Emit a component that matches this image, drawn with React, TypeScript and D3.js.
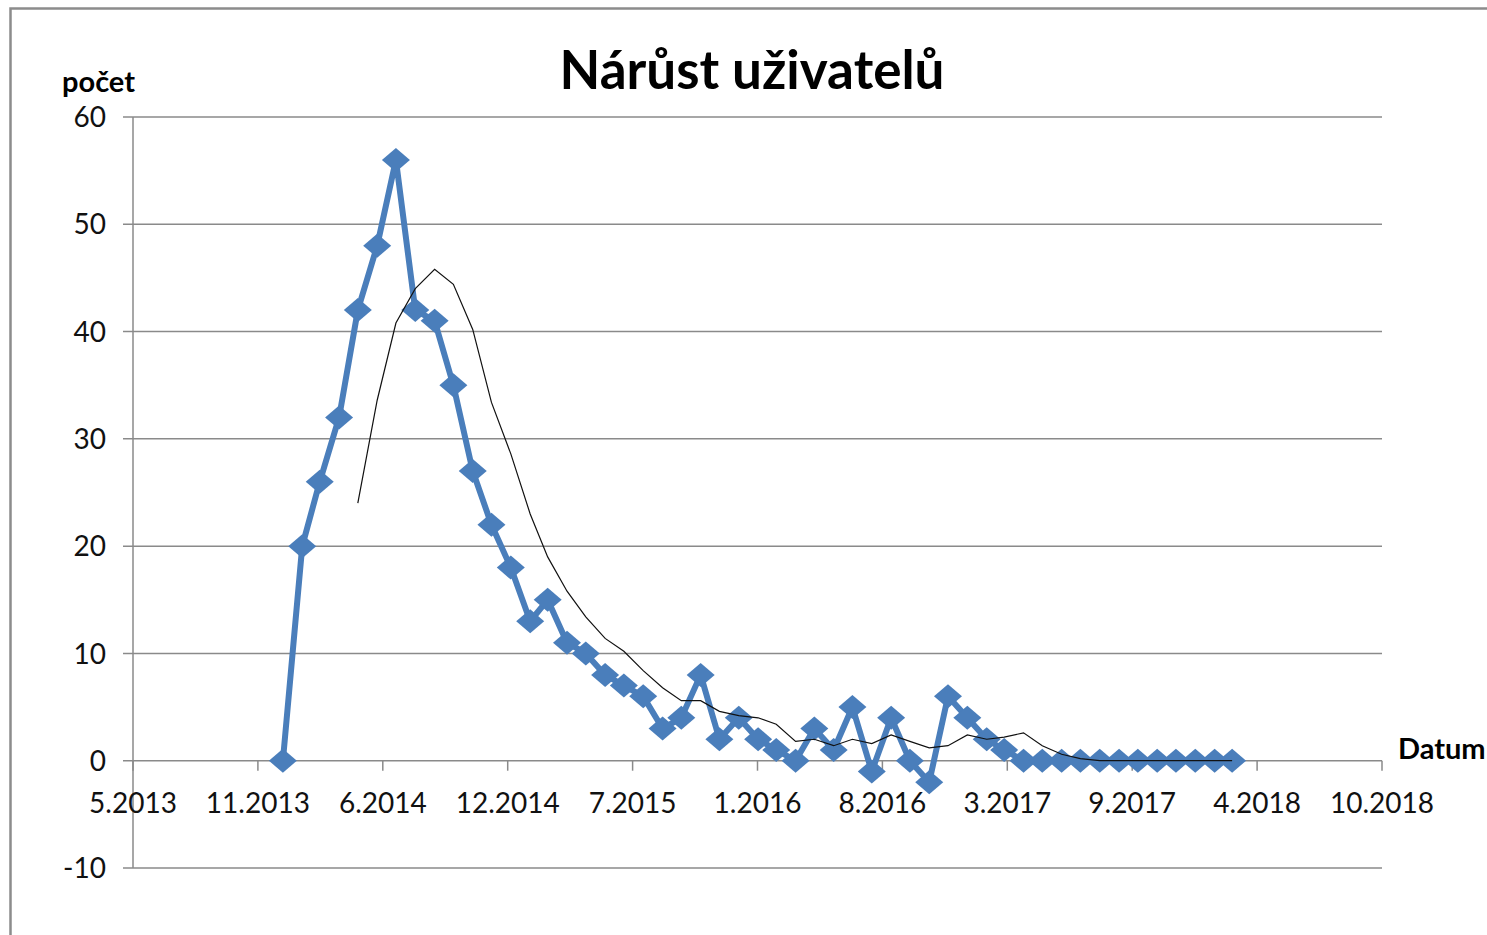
import React, { useEffect, useRef } from 'react'
import * as d3 from 'd3'

// monthly counts, 1.2014 .. 3.2018
const firstMonth = '2014-01-01'
const lastMonth = '2018-03-01'
const counts = [
  0, 20, 26, 32, 42, 48, 56, 42, 41, 35, 27, 22,
  18, 13, 15, 11, 10, 8, 7, 6, 3, 4, 8, 2,
  4, 2, 1, 0, 3, 1, 5, -1, 4, 0, -2, 6,
  4, 2, 1, 0, 0, 0, 0, 0, 0, 0, 0, 0,
  0, 0, 0,
]
const maPeriod = 5

const xTickDates = [
  '2013-05-06', '2013-11-22', '2014-06-10', '2014-12-27', '2015-07-15', '2016-01-31',
  '2016-08-18', '2017-03-06', '2017-09-22', '2018-04-10', '2018-10-27',
]
const xTickLabels = [
  '5.2013', '11.2013', '6.2014', '12.2014', '7.2015', '1.2016',
  '8.2016', '3.2017', '9.2017', '4.2018', '10.2018',
]
const yTicks = [-10, 0, 10, 20, 30, 40, 50, 60]

const title = 'Nárůst uživatelů'
const yTitle = 'počet'
const xTitle = 'Datum'

const W = 1487
const H = 935
const blue = '#4a7ebb'
const font = 'Lato, "Open Sans", sans-serif'

export default function App() {
  const ref = useRef<SVGSVGElement>(null)

  useEffect(() => {
    const svg = d3.select(ref.current)
    svg.selectAll('*').remove()

    const parse = d3.utcParse('%Y-%m-%d')
    const months = d3.utcMonth.range(parse(firstMonth)!, d3.utcMonth.offset(parse(lastMonth)!, 1))
    const data = months.map((d, i) => ({ date: d, v: counts[i] }))
    const ma = data
      .map((d, i) => {
        if (i < maPeriod - 1) return null
        const s = d3.mean(counts.slice(i - maPeriod + 1, i + 1))!
        return { date: d.date, v: s }
      })
      .filter(d => d !== null) as { date: Date; v: number }[]

    const tickDates = xTickDates.map(d => parse(d)!)
    const x = d3.scaleUtc()
      .domain([tickDates[0], tickDates[tickDates.length - 1]])
      .range([133, 1382])
    const y = d3.scaleLinear().domain([-10, 60]).range([868, 117])

    // outer frame
    svg.append('rect')
      .attr('x', 10.5).attr('y', 8.5)
      .attr('width', W).attr('height', H)
      .attr('fill', 'none')
      .attr('stroke', '#8c8c8c')
      .attr('stroke-width', 2.5)

    // gridlines
    svg.append('g')
      .selectAll('line')
      .data(yTicks)
      .join('line')
      .attr('x1', x.range()[0] - 10)
      .attr('x2', x.range()[1])
      .attr('y1', d => y(d))
      .attr('y2', d => y(d))
      .attr('stroke', '#8a8a8a')
      .attr('stroke-width', 1.5)

    // y axis line
    svg.append('line')
      .attr('x1', 133).attr('x2', 133)
      .attr('y1', y(60)).attr('y2', y(-10))
      .attr('stroke', '#8a8a8a')
      .attr('stroke-width', 1.5)

    svg.append('g')
      .selectAll('text')
      .data(yTicks)
      .join('text')
      .attr('x', 106)
      .attr('y', d => y(d))
      .attr('dy', '0.36em')
      .attr('text-anchor', 'end')
      .attr('font-family', font)
      .attr('font-size', 28)
      .attr('fill', '#111')
      .text(d => d)

    // x ticks on the 0 line
    svg.append('g')
      .selectAll('line')
      .data(tickDates)
      .join('line')
      .attr('x1', d => x(d))
      .attr('x2', d => x(d))
      .attr('y1', y(0))
      .attr('y2', y(0) + 10)
      .attr('stroke', '#8a8a8a')
      .attr('stroke-width', 1.5)

    svg.append('g')
      .selectAll('text')
      .data(tickDates)
      .join('text')
      .attr('x', d => x(d))
      .attr('y', 803)
      .attr('dy', '0.36em')
      .attr('text-anchor', 'middle')
      .attr('font-family', font)
      .attr('font-size', 28)
      .attr('fill', '#111')
      .text((d, i) => xTickLabels[i])

    // main series
    const line = d3.line<{ date: Date; v: number }>()
      .x(d => x(d.date))
      .y(d => y(d.v))

    svg.append('path')
      .datum(data)
      .attr('d', line)
      .attr('fill', 'none')
      .attr('stroke', blue)
      .attr('stroke-width', 6)
      .attr('stroke-linejoin', 'round')

    const hw = 14, hh = 12
    svg.append('g')
      .selectAll('path')
      .data(data)
      .join('path')
      .attr('d', d => {
        const cx = x(d.date), cy = y(d.v)
        return `M${cx},${cy - hh}L${cx + hw},${cy}L${cx},${cy + hh}L${cx - hw},${cy}Z`
      })
      .attr('fill', blue)

    // moving average trendline
    svg.append('path')
      .datum(ma)
      .attr('d', line)
      .attr('fill', 'none')
      .attr('stroke', '#111')
      .attr('stroke-width', 1.2)

    // titles
    svg.append('text')
      .attr('x', 752).attr('y', 89)
      .attr('text-anchor', 'middle')
      .attr('font-family', font)
      .attr('font-weight', 'bold')
      .attr('font-size', 53)
      .attr('fill', '#000')
      .text(title)

    svg.append('text')
      .attr('x', 62).attr('y', 92)
      .attr('font-family', font)
      .attr('font-weight', 'bold')
      .attr('font-size', 29)
      .attr('fill', '#000')
      .text(yTitle)

    svg.append('text')
      .attr('x', 1398).attr('y', 759)
      .attr('font-family', font)
      .attr('font-weight', 'bold')
      .attr('font-size', 29)
      .attr('fill', '#000')
      .text(xTitle)
  }, [])

  return (
    <svg
      ref={ref}
      width={W}
      height={H}
      style={{ position: 'absolute', left: 0, top: 0, background: '#fff' }}
    />
  )
}
